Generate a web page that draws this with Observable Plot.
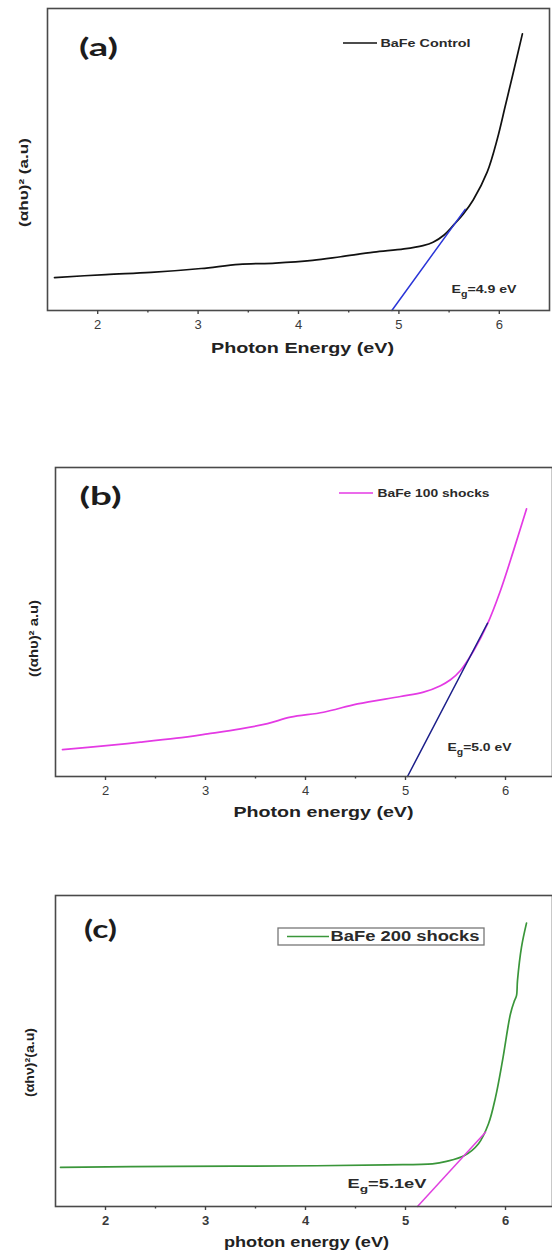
<!DOCTYPE html>
<html><head><meta charset="utf-8">
<script src="https://cdn.jsdelivr.net/npm/d3@7"></script>
<script src="https://cdn.jsdelivr.net/npm/@observablehq/plot@0.6"></script>
<style>
body{margin:0;background:#fff;}
#chart{width:552px;}
#chart svg{display:block;}
</style></head><body><div id="chart"></div>
<script>
// ---- data (y in arbitrary units, 0 = axis, 100 = top of frame)
const controlEnergy = [1.57, 2.08, 2.53, 3.03, 3.41, 3.77, 4.14, 4.42, 4.75, 5.05, 5.24, 5.34, 5.45, 5.55, 5.64, 5.74, 5.88, 5.98, 6.06, 6.14, 6.23];
const controlValue  = [10.9, 11.9, 12.6, 13.9, 15.3, 15.7, 16.6, 17.8, 19.3, 20.4, 21.5, 22.6, 25.0, 28.5, 31.9, 36.6, 45.9, 56.8, 67.8, 78.9, 91.6];
const controlFitEnergy = [4.93, 5.66];
const controlFitValue  = [0, 33.5];

const shock100Energy = [1.57, 2.01, 2.35, 2.71, 3.02, 3.35, 3.62, 3.85, 4.18, 4.52, 4.95, 5.18, 5.35, 5.45, 5.55, 5.68, 5.82, 5.95, 6.08, 6.21];
const shock100Value  = [8.7, 10.0, 11.1, 12.4, 13.8, 15.4, 17.1, 19.2, 20.8, 23.5, 25.9, 27.3, 29.4, 31.3, 34.3, 40.6, 49.4, 60.2, 73.1, 86.6];
const shock100FitEnergy = [5.02, 5.82];
const shock100FitValue  = [0, 49.6];

const shock200Energy = [1.55, 2.71, 4.11, 4.81, 5.27, 5.41, 5.59, 5.73, 5.83, 5.90, 5.97, 6.05, 6.09, 6.11, 6.12, 6.16, 6.21];
const shock200Value  = [12.6, 12.9, 13.1, 13.4, 13.7, 14.5, 16.4, 20.2, 26.6, 35.1, 46.9, 62.0, 66.2, 67.8, 72.7, 83.4, 91.1];
const shock200FitEnergy = [5.12, 5.80];
const shock200FitValue  = [0, 23.9];

const majorTicks = [2, 3, 4, 5, 6];
const minorTicks = [2.5, 3.5, 4.5, 5.5];

const seriesNames = ["BaFe Control", "BaFe 100 shocks", "BaFe 200 shocks"];
const gapLabels = ["Eg=4.9 eV", "Eg=5.0 eV", "Eg=5.1eV"];
const panelTags = ["(a)", "(b)", "(c)"];
const xLabels = ["Photon Energy (eV)", "Photon energy (eV)", "photon energy (eV)"];
const yLabels = ["(αhυ)² (a.u)", "((αhυ)² a.u)", "(αhν)²(a.u)"];

const zip = (xs, ys) => xs.map((x, i) => ({e: x, v: ys[i]}));

const FONT = "'Liberation Sans', Arial, sans-serif";

const panels = [
  {
    height: 370, mt: 8, mb: 60, ml: 47, mr: 3, xDomain: [1.5, 6.5],
    curve: zip(controlEnergy, controlValue), fit: zip(controlFitEnergy, controlFitValue),
    color: "#111111", fitColor: "#2a35d8",
    name: seriesNames[0], eg: gapLabels[0], tag: panelTags[0], xlabel: xLabels[0], ylabel: yLabels[0],
    tickBold: false,
    tagPos: [98, 48, 39], ylabPos: [24, 182, 89, 12], xlabPos: [302, 348, 183, 14],
    legend: {x1: 343, x2: 377, y: 43, tx: 380, len: 90, fs: 11, box: null},
    egPos: [451, 289, 65, 11]
  },
  {
    height: 460, mt: 97, mb: 54, ml: 55, mr: 0, xDomain: [1.5, 6.47],
    curve: zip(shock100Energy, shock100Value), fit: zip(shock100FitEnergy, shock100FitValue),
    color: "#e43ae4", fitColor: "#1c1f8a",
    name: seriesNames[1], eg: gapLabels[1], tag: panelTags[1], xlabel: xLabels[1], ylabel: yLabels[1],
    tickBold: false,
    tagPos: [100, 127, 42], ylabPos: [34, 268, 77, 12], xlabPos: [323, 442, 180, 14],
    legend: {x1: 339, x2: 373, y: 123, tx: 377, len: 112, fs: 11, box: null},
    egPos: [447, 377, 64, 11]
  },
  {
    height: 421, mt: 65, mb: 45, ml: 55, mr: 0, xDomain: [1.5, 6.47],
    curve: zip(shock200Energy, shock200Value), fit: zip(shock200FitEnergy, shock200FitValue),
    color: "#3a963a", fitColor: "#e040e0",
    name: seriesNames[2], eg: gapLabels[2], tag: panelTags[2], xlabel: xLabels[2], ylabel: yLabels[2],
    tickBold: true,
    tagPos: [100, 100, 33], ylabPos: [30, 232, 69, 12], xlabPos: [306, 412, 165, 14],
    legend: {x1: 287, x2: 329, y: 106.5, tx: 330, len: 149, fs: 14, box: [278, 98, 206, 17]},
    egPos: [347, 353, 79, 13]
  }
];

const root = document.getElementById("chart");

for (const p of panels) {
  const rel = (x, y) => ({dx: x - p.ml, dy: y - p.mt});
  const svg = Plot.plot({
    width: 552, height: p.height,
    marginTop: p.mt, marginBottom: p.mb, marginLeft: p.ml, marginRight: p.mr,
    x: {domain: p.xDomain},
    y: {domain: [0, 100], axis: null},
    style: {fontFamily: FONT, background: "white", overflow: "visible"},
    marks: [
      Plot.line(p.curve, {x: "e", y: "v", stroke: p.color, strokeWidth: 1.7, curve: "catmull-rom"}),
      Plot.line(p.fit, {x: "e", y: "v", stroke: p.fitColor, strokeWidth: 1.5}),
      Plot.frame({stroke: "#4a4a4a", strokeWidth: 1.6}),
      Plot.axisX({ticks: majorTicks, tickSize: 4, tickPadding: 5, fontSize: 13, fill: "#3a3a3a",
        fontWeight: p.tickBold ? "bold" : "normal", stroke: "#444", strokeWidth: 1.4, label: null, tickFormat: d => String(d)}),
      Plot.axisX({ticks: minorTicks, tickSize: 2.5, stroke: "#444", strokeWidth: 1.4, tickFormat: () => "", label: null}),
      // panel tag
      Plot.text([p.tag], {frameAnchor: "top-left", ...rel(p.tagPos[0], p.tagPos[1]), text: d => d,
        fontSize: 24, fontWeight: "bold", fontFamily: "Lato, 'Open Sans', sans-serif", fill: "#1c1c1c", textAnchor: "middle", lineAnchor: "middle"}),
      // y label
      Plot.text([p.ylabel], {frameAnchor: "top-left", ...rel(p.ylabPos[0], p.ylabPos[1]), text: d => d, rotate: -90,
        fontSize: p.ylabPos[3], fontWeight: "bold", fill: "#222", textAnchor: "middle", lineAnchor: "middle"}),
      // x label
      Plot.text([p.xlabel], {frameAnchor: "top-left", ...rel(p.xlabPos[0], p.xlabPos[1]), text: d => d,
        fontSize: p.xlabPos[3], fontWeight: "bold", fill: "#222", textAnchor: "middle", lineAnchor: "middle"}),
      // legend text
      Plot.text([p.name], {frameAnchor: "top-left", ...rel(p.legend.tx, p.legend.y), text: d => d,
        fontSize: p.legend.fs, fontWeight: "bold", fill: "#2a2a2a", textAnchor: "start", lineAnchor: "middle"}),
      // band-gap label
      Plot.text([p.eg], {frameAnchor: "top-left", ...rel(p.egPos[0], p.egPos[1]), text: d => d,
        fontSize: p.egPos[3], fontWeight: "bold", fill: "#2a2a2a", textAnchor: "start", lineAnchor: "middle"})
    ]
  });

  const s = d3.select(svg);
  const stretch = (txt, len) => s.selectAll("text").filter(function () { return this.textContent === txt; })
    .attr("textLength", len).attr("lengthAdjust", "spacingAndGlyphs");
  stretch(p.tag, p.tagPos[2]);
  stretch(p.ylabel, p.ylabPos[2]);
  stretch(p.xlabel, p.xlabPos[2]);
  stretch(p.name, p.legend.len);

  // subscript g in band-gap label
  s.selectAll("text").filter(function () { return this.textContent === p.eg; }).each(function () {
    const rest = p.eg.slice(2);
    const t = d3.select(this);
    t.text("E");
    t.append("tspan").attr("dy", 4).attr("font-size", "0.75em").text("g");
    t.append("tspan").attr("dy", -4).text(rest);
    t.attr("textLength", p.egPos[2]).attr("lengthAdjust", "spacingAndGlyphs");
  });

  // legend sample line (and box)
  if (p.legend.box) {
    const [bx, by, bw, bh] = p.legend.box;
    s.append("rect").attr("x", bx).attr("y", by).attr("width", bw).attr("height", bh)
      .attr("fill", "none").attr("stroke", "#777").attr("stroke-width", 1.3);
  }
  s.append("line").attr("x1", p.legend.x1).attr("x2", p.legend.x2)
    .attr("y1", p.legend.y).attr("y2", p.legend.y)
    .attr("stroke", p.color).attr("stroke-width", 1.6);

  root.appendChild(svg);
}
</script>
</body></html>
